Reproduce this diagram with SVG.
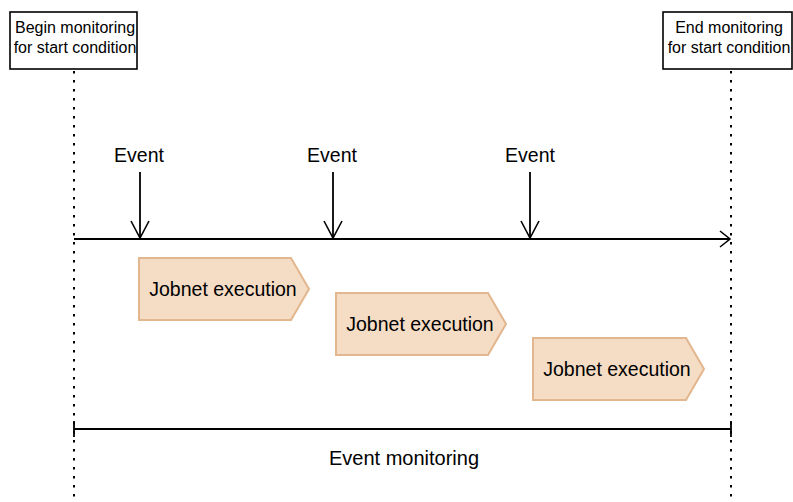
<svg xmlns="http://www.w3.org/2000/svg" width="793" height="502" viewBox="0 0 793 502">
<defs>
<style>
.box{fill:#fff;stroke:#000;stroke-width:1.6}
.lbl{font-family:"Liberation Sans",Arial,sans-serif;fill:#000;text-anchor:middle}
.small{font-size:16px}
.big{font-size:19.5px}
.mon{font-size:20px}
.dot{stroke:#000;stroke-width:2;stroke-dasharray:2.5 6.5;fill:none}
.ln{stroke:#000;stroke-width:1.8;fill:none}
.job{fill:#F5DCC4;stroke:#E2B68E;stroke-width:2}
</style>
<marker id="vhead" markerWidth="12" markerHeight="20" refX="10" refY="9" orient="auto" markerUnits="userSpaceOnUse" viewBox="0 0 12 20" overflow="visible">
<path d="M-7,0 L10,9 L-7,18" fill="none" stroke="#000" stroke-width="1.6"/>
</marker>
<marker id="thead" markerWidth="12" markerHeight="20" refX="10" refY="9" orient="auto" markerUnits="userSpaceOnUse" viewBox="0 0 12 20" overflow="visible">
<path d="M0,1 L10,9 L0,17" fill="none" stroke="#000" stroke-width="1.6"/>
</marker>
</defs>
<rect width="793" height="502" fill="#fff"/>

<g id="begin">
<rect class="box" x="10" y="12" width="127" height="57"/>
<text class="lbl small" x="75" y="33">Begin monitoring</text>
<text class="lbl small" x="75" y="53">for start condition</text>
</g>
<g id="end">
<rect class="box" x="663" y="12" width="129" height="57"/>
<text class="lbl small" x="729" y="33">End monitoring</text>
<text class="lbl small" x="729" y="53">for start condition</text>
</g>

<g id="connectors">
<line class="dot" x1="74" y1="71" x2="74" y2="502"/>
<line class="dot" x1="731" y1="71" x2="731" y2="502"/>
<line class="ln" x1="74" y1="239" x2="730" y2="239" marker-end="url(#thead)"/>
<line class="ln" x1="140" y1="172" x2="140" y2="238" marker-end="url(#vhead)"/>
<line class="ln" x1="333" y1="172" x2="333" y2="238" marker-end="url(#vhead)"/>
<line class="ln" x1="530" y1="172" x2="530" y2="238" marker-end="url(#vhead)"/>
<line class="ln" x1="74" y1="429" x2="731" y2="429"/>
<line class="ln" x1="74" y1="421" x2="74" y2="437"/>
<line class="ln" x1="731" y1="421" x2="731" y2="437"/>
</g>

<g id="event1"><text class="lbl big" x="139" y="162">Event</text></g>
<g id="event2"><text class="lbl big" x="332" y="162">Event</text></g>
<g id="event3"><text class="lbl big" x="530" y="162">Event</text></g>

<g id="job1">
<path class="job" d="M139,258 L291,258 L309,289 L291,320 L139,320 Z"/>
<text class="lbl big" x="223" y="296">Jobnet execution</text>
</g>
<g id="job2">
<path class="job" d="M336,293 L488,293 L506,324 L488,355 L336,355 Z"/>
<text class="lbl big" x="420" y="331">Jobnet execution</text>
</g>
<g id="job3">
<path class="job" d="M533,338 L686,338 L704,369 L686,400 L533,400 Z"/>
<text class="lbl big" x="617" y="376">Jobnet execution</text>
</g>

<g id="monitoring">
<text class="lbl mon" x="404" y="465">Event monitoring</text>
</g>
</svg>
